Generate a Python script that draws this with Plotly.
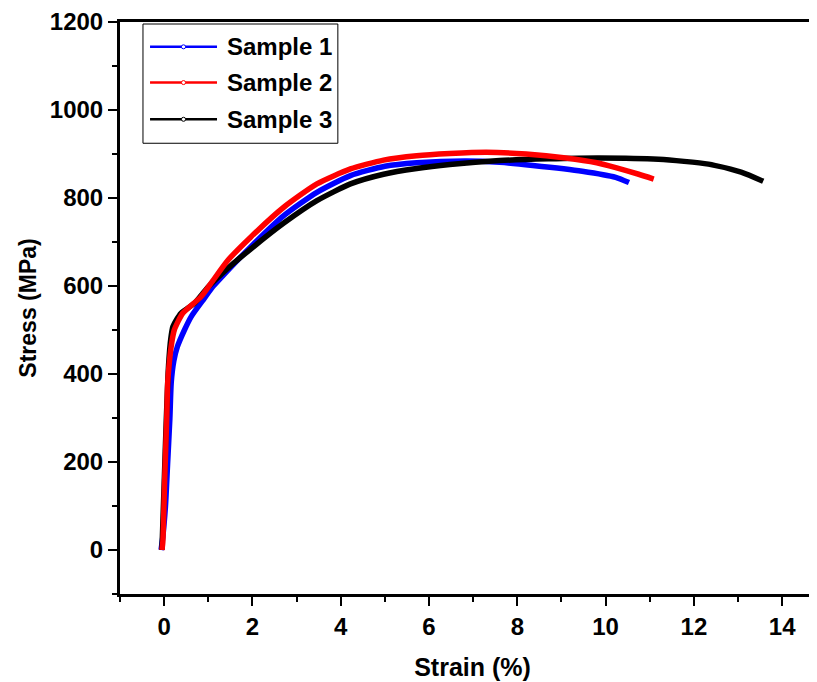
import plotly.graph_objects as go

# Sample 1 (blue)
strain_1 = [-0.07, -0.03, 0.03, 0.08, 0.13, 0.16, 0.22, 0.30, 0.46, 0.61, 0.91, 1.10, 1.28,
            1.96, 2.71, 3.46, 4.22, 5.00, 5.72, 6.84, 7.60, 8.35, 9.47, 10.23, 10.53]
stress_1 = [0, 30, 100, 200, 300, 380, 430, 462, 500, 530, 572, 598, 618,
            689, 760, 813, 851, 872, 880, 884, 881, 874, 861, 847, 835]

# Sample 2 (red)
strain_2 = [-0.05, -0.03, 0.01, 0.06, 0.08, 0.12, 0.17, 0.23, 0.42, 0.83, 1.06, 1.44,
            1.96, 2.71, 3.46, 4.22, 4.97, 5.72, 6.47, 7.30, 8.20, 9.10, 9.80, 10.23, 10.75, 11.09]
stress_2 = [0, 18, 154, 304, 380, 429, 470, 500, 538, 575, 606, 658,
            711, 779, 832, 866, 886, 896, 901, 904, 900, 891, 880, 869, 854, 843]

# Sample 3 (black)
strain_3 = [-0.05, 0.00, 0.05, 0.10, 0.15, 0.20, 0.38, 0.68, 1.00, 1.44, 1.96, 2.71, 3.46,
            4.22, 4.97, 5.72, 6.47, 7.60, 8.70, 9.85, 11.20, 12.33, 13.07, 13.57]
stress_3 = [0, 150, 300, 420, 480, 508, 538, 560, 598, 640, 684, 743, 794,
            832, 854, 867, 876, 885, 889, 891, 888, 877, 859, 838]

names = ["Sample 1", "Sample 2", "Sample 3"]
colors = ["#0000ff", "#ff0000", "#000000"]
series = [(strain_1, stress_1), (strain_2, stress_2), (strain_3, stress_3)]

x_ticks = list(range(0, 15, 2))
y_ticks = list(range(0, 1201, 200))

fig = go.Figure()

# draw blue, black, then red on top
for i in [0, 2, 1]:
    x, y = series[i]
    fig.add_trace(
        go.Scatter(
            x=x, y=y, mode="lines",
            line=dict(color=colors[i], width=5.5, shape="spline", smoothing=0.6),
            showlegend=False, hoverinfo="skip",
        )
    )

# hand-made legend (long line samples like the original), paper coordinates
leg_x0, leg_x1, leg_top, leg_bot = 0.0326, 0.309, 0.9965, 0.788
row_y = [0.9566, 0.8941, 0.8299]
line_x0, line_x1, text_x = 0.0426, 0.1376, 0.1489
shapes = [
    dict(type="rect", xref="paper", yref="paper", x0=leg_x0, x1=leg_x1, y0=leg_bot, y1=leg_top,
         line=dict(color="black", width=1), fillcolor="white", layer="above"),
]
annotations = []
for i in range(3):
    shapes.append(dict(type="line", xref="paper", yref="paper", x0=line_x0, x1=line_x1,
                       y0=row_y[i], y1=row_y[i], line=dict(color=colors[i], width=2.5), layer="above"))
    xm = (line_x0 + line_x1) / 2
    shapes.append(dict(type="circle", xref="paper", yref="paper",
                       x0=xm - 0.003, x1=xm + 0.003, y0=row_y[i] - 0.0035, y1=row_y[i] + 0.0035,
                       line=dict(color=colors[i], width=1), fillcolor="white", layer="above"))
    annotations.append(dict(xref="paper", yref="paper", x=text_x, y=row_y[i], xanchor="left",
                            yanchor="middle", text=names[i], showarrow=False,
                            font=dict(family="Liberation Sans, Arial, sans-serif", size=24,
                                      color="black", weight="bold")))

font_bold = dict(family="Liberation Sans, Arial, sans-serif", size=24, color="black", weight="bold")
font_narrow = dict(family="Liberation Sans Narrow, Arial Narrow, Liberation Sans, sans-serif",
                   size=24, color="black", weight="bold")

fig.update_layout(
    width=817, height=674,
    margin=dict(l=112, r=0, t=10, b=88),
    plot_bgcolor="white", paper_bgcolor="white",
    font=font_bold,
    showlegend=False,
    shapes=shapes,
    annotations=annotations,
)
fig.update_xaxes(
    range=[-1, 14.97], tickvals=x_ticks, ticks="outside", ticklen=9, tickwidth=2,
    showline=True, linewidth=3, linecolor="black", mirror=True, showgrid=False, zeroline=False,
    minor=dict(dtick=1, tick0=-1, ticks="outside", ticklen=5, tickwidth=2, tickcolor="black", showgrid=False),
    tickfont=font_narrow, tickcolor="black", ticklabeloverflow="allow",
    title=dict(text="Strain (%)", font=dict(font_narrow, size=25), standoff=20),
)
fig.update_yaxes(
    range=[-100, 1200], tickvals=y_ticks, ticks="outside", ticklen=9, tickwidth=2,
    showline=True, linewidth=3, linecolor="black", showgrid=False, zeroline=False,
    minor=dict(dtick=100, tick0=-100, ticks="outside", ticklen=5, tickwidth=2, tickcolor="black", showgrid=False),
    tickfont=font_bold, tickcolor="black", ticklabeloverflow="allow",
    title=dict(text="Stress (MPa)", font=dict(font_bold, size=23), standoff=7),
)

fig.write_html("out.html")
